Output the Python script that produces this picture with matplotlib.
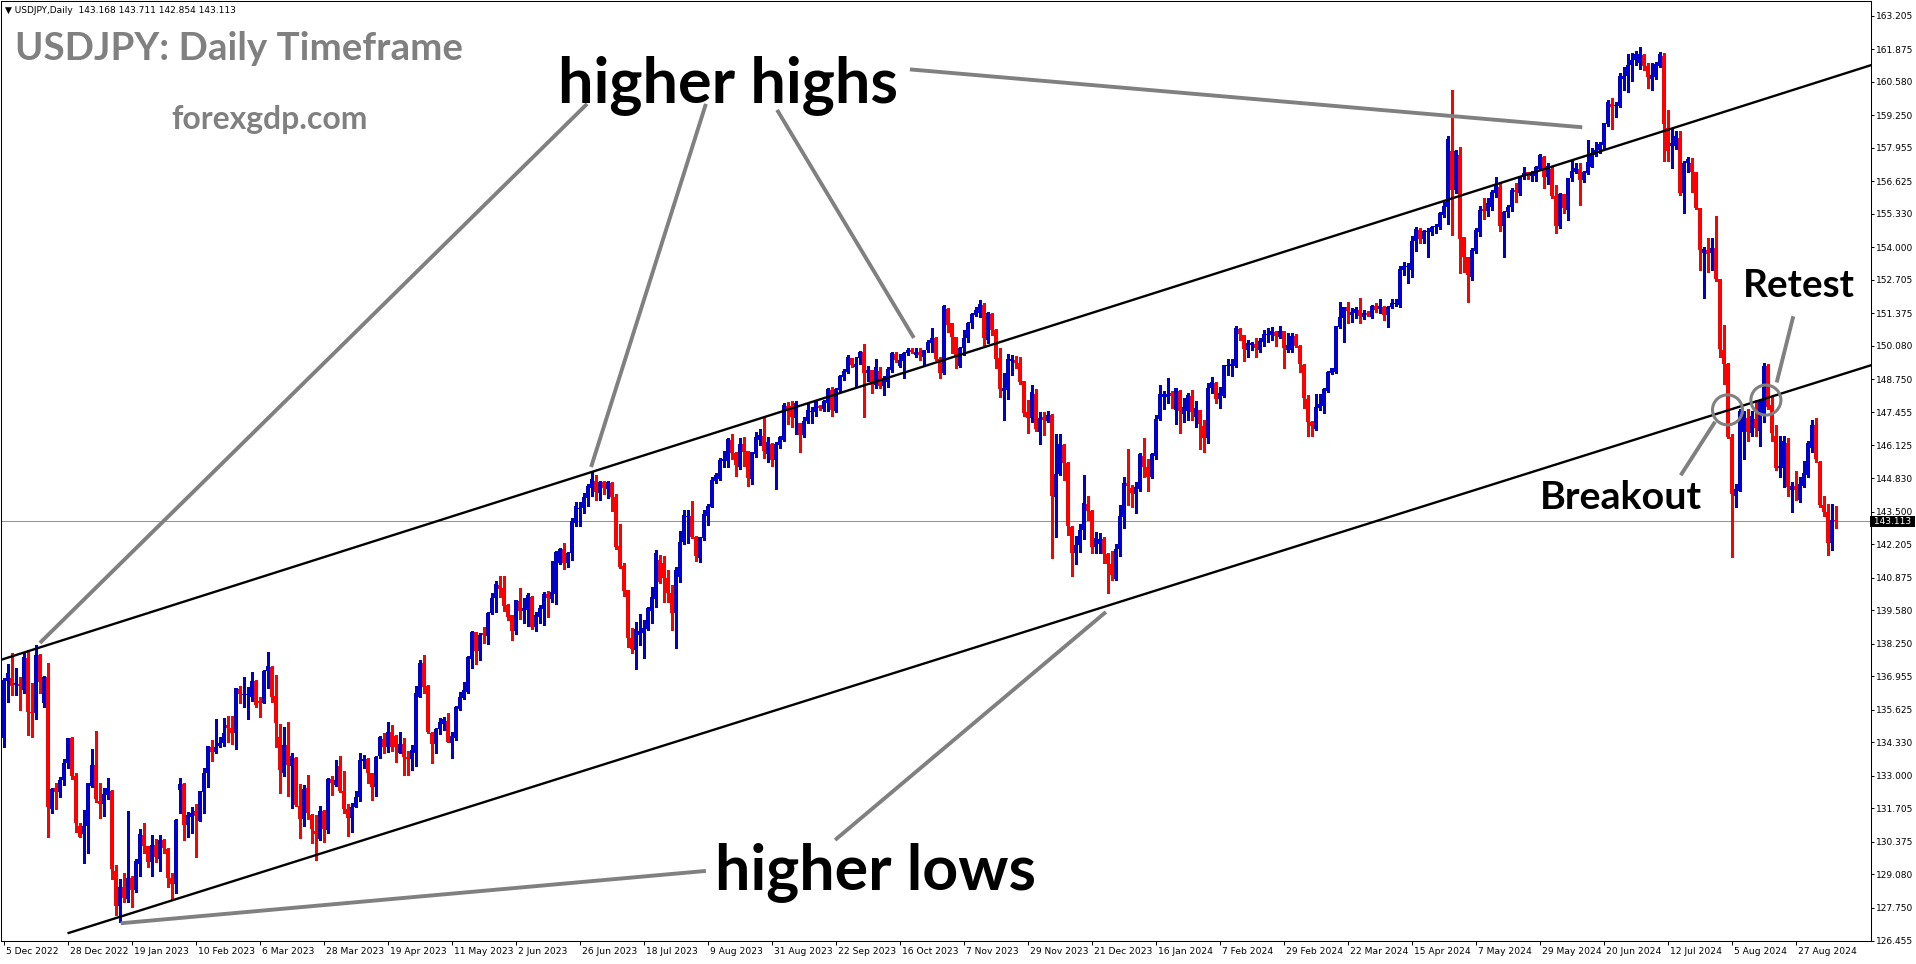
import matplotlib
matplotlib.use("Agg")
import matplotlib.pyplot as plt
import matplotlib.transforms as mtransforms
import numpy as np

# ---------------- data (USDJPY daily) ----------------
opens = [
    134.49, 136.75, 136.87, 136.60, 136.65, 136.41, 137.67, 135.55, 135.48, 137.80,
    135.90, 136.91, 131.68, 132.53, 132.34, 132.83, 133.50, 134.51, 133.00, 131.00,
    130.70, 131.00, 132.60, 133.43, 132.00, 131.88, 132.25, 132.40, 129.20, 127.83,
    128.60, 128.10, 128.95, 128.46, 129.50, 130.65, 130.20, 129.59, 130.25, 129.70,
    130.43, 130.10, 128.95, 128.70, 132.44, 132.67, 131.05, 131.35, 131.60, 131.20,
    132.37, 133.12, 134.16, 133.96, 134.20, 134.30, 135.02, 134.91, 134.69, 136.43,
    136.20, 136.20, 136.15, 136.78, 135.97, 135.90, 137.18, 137.34, 136.17, 134.56,
    133.10, 134.22, 133.37, 133.72, 131.80, 131.28, 132.50, 131.44, 130.80, 130.47,
    131.60, 130.85, 132.87, 132.65, 133.40, 132.40, 131.70, 131.34, 131.77, 132.15,
    133.60, 133.67, 133.10, 132.57, 133.80, 134.47, 134.13, 134.73, 134.60, 133.90,
    134.25, 133.76, 133.67, 133.90, 136.15, 137.50, 136.57, 134.70, 134.26, 134.85,
    135.05, 135.18, 134.30, 134.50, 135.65, 136.08, 136.34, 137.63, 138.70, 137.96,
    138.66, 138.57, 139.46, 140.05, 140.58, 140.46, 139.79, 139.39, 138.77, 139.95,
    139.56, 139.60, 140.12, 138.93, 139.30, 139.62, 140.21, 140.03, 140.22, 141.45,
    142.00, 141.44, 141.87, 143.06, 143.60, 143.66, 144.05, 144.45, 144.72, 144.22,
    144.66, 144.40, 144.62, 144.06, 142.13, 141.34, 140.38, 138.46, 138.00, 138.60,
    138.66, 138.83, 139.55, 140.03, 141.58, 141.47, 140.87, 140.25, 139.46, 140.90,
    142.30, 143.30, 143.33, 142.50, 141.67, 142.45, 143.34, 143.70, 144.72, 144.80,
    145.50, 145.50, 146.34, 145.84, 145.27, 146.18, 145.90, 144.78, 145.80, 146.35,
    146.50, 145.79, 146.20, 145.55, 146.15, 146.35, 147.70, 147.70, 147.23, 147.00,
    146.54, 147.11, 147.45, 147.47, 147.70, 147.56, 147.80, 148.33, 147.51, 148.33,
    148.83, 149.03, 149.60, 149.23, 149.60, 149.83, 148.99, 149.12, 148.53, 149.09,
    148.50, 148.63, 149.12, 149.76, 149.30, 149.50, 149.79, 149.92, 149.72, 149.85,
    149.65, 149.90, 150.20, 150.41, 149.56, 149.02, 151.55, 150.98, 150.42, 149.28,
    149.98, 150.41, 150.98, 151.30, 151.38, 151.70, 150.32, 151.35, 150.71, 149.59,
    148.30, 148.33, 149.50, 149.52, 149.42, 148.69, 147.47, 147.20, 148.17, 146.67,
    147.25, 147.10, 147.34, 144.09, 144.99, 146.16, 145.44, 142.90, 141.84, 142.17,
    142.75, 143.80, 143.54, 142.10, 142.20, 142.40, 141.81, 141.40, 140.82, 142.00,
    143.27, 144.65, 144.43, 144.20, 144.40, 145.72, 145.26, 144.87, 145.70, 147.17,
    148.05, 148.05, 148.20, 147.53, 148.30, 147.36, 147.50, 148.10, 147.25, 147.53,
    146.88, 146.41, 148.40, 148.60, 147.96, 148.10, 149.28, 149.30, 149.28, 150.74,
    150.50, 149.90, 150.10, 150.16, 149.90, 150.25, 150.50, 150.50, 150.65, 150.45,
    150.68, 149.90, 149.90, 150.48, 150.08, 149.34, 147.97, 147.07, 146.77, 147.63,
    147.70, 148.30, 149.00, 149.06, 150.85, 151.20, 151.62, 151.30, 151.40, 151.52,
    151.25, 151.38, 151.25, 151.65, 151.54, 151.63, 151.31, 151.63, 151.75, 151.70,
    153.10, 153.20, 153.10, 154.24, 154.70, 154.33, 154.60, 154.60, 154.80, 154.80,
    155.30, 155.60, 157.83, 156.28, 157.67, 154.40, 153.60, 152.84, 153.87, 154.60,
    155.52, 155.46, 155.62, 156.15, 156.39, 154.86, 155.40, 155.60, 156.28, 156.15,
    156.78, 156.98, 156.85, 156.85, 157.10, 157.60, 156.78, 157.10, 156.05, 154.86,
    156.10, 155.50, 156.74, 157.00, 157.10, 156.68, 156.95, 157.20, 157.67, 157.87,
    158.05, 158.90, 159.70, 159.60, 159.60, 160.68, 160.82, 161.24, 161.43, 161.34,
    161.64, 161.21, 160.68, 160.75, 161.20, 161.60, 158.76, 158.03, 158.03, 158.34,
    156.14, 157.35, 157.35, 156.99, 155.58, 153.78, 153.88, 153.78, 153.98, 152.75,
    149.91, 149.35, 146.47, 144.11, 144.32, 146.65, 147.22, 146.61, 147.18, 146.72,
    147.29, 149.28, 147.72, 146.51, 145.24, 145.24, 146.23, 144.35, 144.53, 143.96,
    144.53, 144.96, 146.02, 146.94, 145.45, 143.75, 143.47, 142.26, 143.168,
]
highs = [
    136.90, 137.44, 137.87, 137.27, 136.94, 137.87, 138.00, 136.67, 138.20, 137.85,
    136.95, 137.47, 132.50, 132.73, 132.96, 133.68, 134.52, 134.55, 133.10, 131.11,
    131.64, 132.72, 134.06, 134.78, 132.73, 132.50, 132.90, 132.45, 129.46, 128.89,
    129.15, 131.60, 129.00, 129.70, 130.90, 131.14, 130.22, 130.65, 130.50, 130.65,
    130.50, 130.15, 129.12, 131.30, 132.90, 132.70, 131.55, 131.77, 131.87, 132.40,
    133.32, 134.20, 134.42, 135.24, 134.55, 135.28, 135.38, 135.38, 136.50, 136.57,
    136.91, 136.54, 137.11, 136.80, 136.14, 137.20, 137.93, 137.36, 137.00, 135.06,
    134.95, 135.15, 133.90, 133.76, 132.68, 132.64, 133.03, 131.50, 131.44, 131.80,
    131.64, 132.93, 133.00, 133.63, 133.79, 133.19, 131.87, 131.90, 132.40, 133.89,
    133.83, 133.70, 133.13, 133.80, 134.60, 134.71, 135.13, 135.00, 134.62, 134.73,
    134.49, 134.00, 134.22, 136.57, 137.60, 137.80, 136.60, 134.73, 134.90, 135.31,
    135.35, 135.48, 134.75, 135.79, 136.32, 136.71, 137.75, 138.75, 138.73, 138.66,
    138.93, 139.52, 140.28, 140.75, 140.94, 140.94, 139.82, 139.40, 140.00, 140.48,
    140.05, 140.28, 140.15, 139.52, 139.80, 140.32, 140.34, 141.54, 141.95, 142.05,
    142.24, 141.90, 143.23, 143.89, 143.89, 144.22, 144.60, 145.07, 144.95, 144.73,
    144.73, 144.73, 144.69, 144.18, 143.01, 141.47, 140.40, 138.86, 139.12, 139.41,
    139.19, 139.70, 140.49, 141.97, 141.78, 141.73, 141.18, 140.58, 141.31, 142.73,
    143.56, 143.56, 143.92, 142.53, 142.50, 143.56, 143.80, 144.86, 145.02, 145.62,
    145.92, 146.43, 146.57, 145.86, 146.43, 146.45, 145.92, 145.86, 146.68, 146.78,
    147.21, 146.47, 146.21, 146.28, 146.50, 147.80, 147.84, 147.89, 147.89, 147.02,
    147.24, 147.77, 147.64, 147.93, 147.72, 147.93, 148.40, 148.44, 148.40, 148.93,
    149.16, 149.72, 149.62, 149.65, 149.89, 150.14, 149.30, 149.14, 149.55, 149.23,
    148.89, 149.26, 149.85, 149.85, 149.76, 149.85, 149.99, 150.01, 149.98, 149.98,
    149.93, 150.32, 150.81, 150.42, 149.65, 151.71, 151.58, 151.00, 150.44, 150.02,
    150.71, 151.04, 151.40, 151.64, 151.91, 151.77, 151.44, 151.38, 150.74, 149.99,
    148.99, 149.76, 149.72, 149.68, 149.65, 148.70, 147.93, 148.53, 148.36, 147.44,
    147.47, 147.51, 147.36, 146.58, 146.58, 146.18, 145.46, 142.93, 142.53, 143.00,
    144.95, 144.12, 143.56, 142.70, 142.66, 142.50, 141.85, 141.93, 142.20, 143.76,
    144.89, 145.99, 144.56, 144.66, 145.84, 146.41, 145.57, 145.81, 147.34, 148.53,
    148.30, 148.80, 148.30, 148.41, 148.33, 148.00, 148.20, 148.33, 147.90, 147.55,
    147.14, 148.62, 148.86, 148.66, 148.46, 149.33, 149.56, 149.55, 150.89, 150.81,
    150.52, 150.32, 150.25, 150.38, 150.38, 150.72, 150.78, 150.82, 150.66, 150.87,
    150.69, 150.61, 150.61, 150.55, 150.10, 149.36, 148.13, 147.09, 148.17, 148.17,
    148.40, 149.07, 149.20, 150.88, 151.84, 151.64, 151.84, 151.58, 151.64, 151.97,
    151.50, 151.47, 151.71, 151.80, 151.93, 151.65, 151.65, 151.93, 151.93, 153.26,
    153.43, 153.36, 154.45, 154.82, 154.76, 154.69, 154.76, 154.85, 154.93, 155.39,
    155.80, 158.44, 160.25, 157.87, 158.00, 154.42, 153.62, 153.96, 154.76, 155.66,
    155.95, 155.95, 156.28, 156.81, 156.57, 155.45, 155.68, 156.35, 156.54, 156.83,
    157.21, 157.00, 157.02, 157.23, 157.70, 157.63, 157.34, 157.21, 156.48, 156.15,
    156.12, 156.77, 157.47, 157.37, 157.34, 157.03, 158.27, 157.93, 158.20, 158.20,
    158.95, 159.85, 159.92, 159.79, 160.92, 161.17, 161.67, 161.74, 161.81, 161.95,
    161.67, 161.31, 161.31, 161.38, 161.77, 161.74, 159.47, 158.69, 158.62, 158.62,
    157.42, 157.60, 157.56, 156.99, 155.58, 154.02, 154.37, 154.37, 155.25, 152.75,
    150.90, 149.42, 146.58, 144.60, 147.58, 147.50, 147.58, 147.50, 147.93, 147.93,
    149.42, 149.35, 148.07, 146.94, 146.51, 146.51, 146.44, 144.67, 145.10, 144.88,
    145.52, 146.30, 147.14, 147.22, 145.52, 144.11, 143.82, 143.82, 143.711,
]
lows = [
    134.16, 135.95, 136.21, 136.21, 135.62, 136.30, 134.62, 134.53, 135.24, 136.30,
    135.75, 130.58, 131.51, 131.67, 132.17, 132.63, 133.30, 132.87, 130.78, 130.55,
    129.52, 129.92, 132.55, 131.97, 131.31, 131.40, 132.06, 128.89, 127.47, 127.20,
    128.00, 128.00, 127.80, 128.37, 129.03, 129.92, 129.39, 129.02, 129.59, 129.20,
    129.92, 128.57, 128.06, 128.33, 131.51, 130.45, 130.58, 130.71, 129.79, 131.20,
    131.51, 132.54, 133.60, 133.92, 134.16, 134.20, 134.36, 134.26, 134.05, 135.88,
    135.75, 135.24, 135.98, 135.75, 135.35, 135.90, 136.47, 135.95, 134.13, 132.30,
    132.99, 132.20, 131.71, 131.80, 130.54, 131.02, 131.28, 130.32, 129.65, 130.45,
    130.38, 130.74, 132.24, 132.61, 132.37, 131.53, 130.62, 130.78, 131.75, 132.01,
    133.30, 132.70, 132.04, 132.20, 133.72, 133.89, 133.96, 134.00, 133.56, 133.89,
    133.03, 133.03, 133.23, 133.39, 136.15, 136.28, 134.70, 133.50, 133.89, 134.66,
    134.82, 134.33, 133.72, 134.42, 135.62, 136.04, 136.30, 137.27, 137.44, 137.60,
    138.27, 138.23, 139.44, 139.52, 140.12, 139.56, 139.19, 138.40, 138.63, 139.22,
    139.06, 138.97, 138.82, 138.77, 139.06, 138.99, 139.30, 139.92, 139.83, 141.40,
    141.20, 141.28, 141.57, 142.94, 142.93, 143.43, 143.74, 144.13, 143.96, 143.96,
    144.20, 144.05, 143.52, 142.01, 141.24, 140.14, 138.13, 137.87, 137.25, 138.20,
    137.67, 138.79, 139.09, 139.72, 140.65, 139.92, 139.92, 138.80, 138.07, 140.69,
    142.20, 142.24, 142.43, 141.55, 141.51, 142.37, 142.97, 143.69, 144.62, 144.75,
    145.28, 145.28, 145.59, 144.93, 145.19, 145.31, 144.53, 144.60, 145.68, 146.15,
    145.62, 145.48, 145.32, 144.40, 146.01, 146.32, 146.97, 146.87, 146.58, 145.88,
    146.48, 147.00, 147.00, 147.30, 147.55, 147.51, 147.51, 147.30, 147.47, 148.26,
    148.73, 148.99, 149.23, 148.49, 149.36, 147.27, 148.70, 148.22, 148.40, 148.40,
    148.13, 148.44, 149.06, 149.46, 149.26, 148.79, 149.72, 149.79, 149.66, 149.52,
    149.28, 149.85, 149.85, 149.52, 148.79, 148.97, 150.65, 149.79, 149.19, 149.26,
    149.72, 150.25, 150.78, 151.28, 151.22, 150.12, 150.19, 150.52, 149.19, 148.06,
    147.14, 147.96, 148.93, 149.19, 148.56, 147.30, 146.64, 147.07, 146.70, 146.18,
    146.54, 147.07, 141.64, 142.50, 144.95, 144.75, 142.57, 140.95, 141.42, 141.90,
    142.40, 143.17, 141.84, 141.84, 141.84, 141.44, 140.25, 140.78, 140.78, 141.75,
    142.83, 143.76, 143.70, 143.43, 144.30, 144.89, 144.33, 144.82, 145.58, 147.13,
    147.56, 147.83, 147.60, 146.98, 146.64, 147.07, 147.14, 147.14, 146.87, 146.00,
    145.88, 146.24, 148.20, 147.80, 147.60, 148.04, 148.93, 148.89, 149.26, 150.32,
    149.48, 149.66, 149.90, 149.66, 149.85, 150.08, 150.25, 150.32, 150.08, 150.38,
    149.19, 149.85, 149.85, 150.03, 149.06, 147.60, 146.50, 146.50, 146.74, 147.54,
    147.43, 148.26, 148.97, 148.99, 150.78, 150.25, 150.98, 151.05, 151.20, 151.00,
    151.14, 151.27, 151.20, 151.44, 151.38, 151.10, 150.82, 151.60, 151.66, 151.64,
    152.90, 152.57, 152.81, 153.87, 154.16, 154.19, 153.60, 154.49, 154.56, 154.73,
    155.20, 154.93, 154.49, 156.15, 152.97, 153.03, 151.84, 152.70, 153.76, 154.45,
    155.13, 155.26, 155.48, 155.99, 154.66, 153.60, 155.22, 155.46, 155.82, 156.08,
    156.70, 156.70, 156.65, 156.64, 157.07, 156.34, 156.52, 155.95, 154.56, 154.76,
    155.35, 155.10, 156.64, 156.94, 155.68, 156.60, 156.92, 157.18, 157.63, 157.76,
    157.93, 158.82, 158.70, 159.17, 159.59, 160.25, 160.18, 160.61, 161.24, 161.10,
    161.03, 160.32, 160.25, 160.68, 161.17, 157.42, 157.42, 157.14, 157.92, 156.07,
    155.37, 156.99, 156.21, 155.51, 153.10, 151.97, 153.03, 153.10, 152.67, 149.63,
    148.57, 146.44, 141.70, 143.68, 144.32, 145.59, 146.30, 146.51, 146.51, 146.09,
    147.07, 147.58, 146.30, 145.17, 144.88, 144.46, 144.11, 143.47, 143.96, 143.89,
    144.46, 144.88, 145.88, 145.45, 143.68, 143.33, 141.77, 141.98, 142.854,
]
closes = [
    136.80, 137.07, 136.57, 136.68, 136.57, 137.73, 135.55, 135.48, 137.80, 136.74,
    136.91, 131.75, 132.48, 132.34, 132.83, 133.52, 134.51, 133.00, 131.11, 130.58,
    131.00, 132.70, 133.43, 132.06, 131.88, 132.28, 132.53, 129.30, 127.83, 128.57,
    128.16, 128.95, 128.46, 129.61, 130.69, 130.20, 129.59, 130.25, 129.79, 130.45,
    130.12, 128.95, 128.70, 131.25, 132.67, 131.05, 131.44, 131.53, 131.40, 132.40,
    133.12, 134.20, 133.96, 134.16, 134.30, 134.69, 134.91, 134.69, 136.50, 136.24,
    136.25, 136.21, 136.78, 135.81, 135.88, 137.18, 137.36, 136.15, 135.08, 133.23,
    134.22, 133.43, 133.80, 131.84, 131.28, 132.46, 131.51, 130.87, 130.70, 131.60,
    130.89, 132.87, 132.70, 132.83, 132.40, 131.68, 131.34, 131.77, 132.15, 133.63,
    133.67, 133.10, 132.57, 133.76, 134.53, 134.13, 134.73, 134.15, 134.13, 134.25,
    133.73, 133.66, 134.02, 136.28, 137.50, 136.54, 134.73, 134.26, 134.85, 135.13,
    135.25, 134.36, 134.58, 135.75, 136.12, 136.41, 137.73, 138.73, 137.96, 138.60,
    138.60, 139.46, 140.08, 140.62, 140.42, 139.76, 139.32, 138.77, 139.99, 139.56,
    139.68, 140.19, 138.93, 139.39, 139.65, 140.21, 140.05, 140.29, 141.91, 142.00,
    141.44, 141.87, 143.12, 143.72, 143.66, 144.09, 144.52, 144.80, 144.29, 144.66,
    144.45, 144.66, 144.09, 142.08, 141.29, 140.34, 138.46, 138.04, 138.83, 138.76,
    138.89, 139.68, 140.12, 141.87, 140.72, 140.85, 140.25, 139.46, 141.18, 142.30,
    143.36, 143.33, 142.50, 141.75, 142.48, 143.40, 143.72, 144.76, 144.95, 145.55,
    145.59, 146.38, 145.84, 145.35, 146.20, 145.88, 144.85, 145.85, 146.48, 146.54,
    145.92, 146.25, 145.55, 146.19, 146.48, 147.73, 147.54, 147.27, 147.83, 146.54,
    147.11, 147.54, 147.47, 147.89, 147.60, 147.90, 148.36, 147.54, 148.37, 148.89,
    149.09, 149.65, 149.32, 149.36, 149.85, 149.02, 149.12, 148.53, 149.23, 148.50,
    148.79, 149.15, 149.81, 149.52, 149.52, 149.81, 149.92, 149.86, 149.85, 149.72,
    149.92, 150.25, 150.41, 149.56, 149.02, 151.68, 150.91, 150.42, 149.68, 149.99,
    150.41, 151.00, 151.35, 151.51, 151.75, 150.38, 151.40, 150.71, 149.56, 148.37,
    148.42, 149.56, 149.56, 149.42, 148.66, 147.43, 147.20, 148.26, 146.77, 147.23,
    147.14, 147.34, 144.13, 144.99, 146.18, 145.44, 142.93, 141.84, 142.17, 142.75,
    143.83, 143.54, 142.10, 142.46, 142.40, 141.81, 141.40, 140.98, 142.00, 143.32,
    144.65, 144.52, 144.22, 144.49, 145.79, 145.28, 144.89, 145.79, 147.17, 148.17,
    148.17, 148.17, 148.11, 148.40, 147.51, 147.67, 148.13, 147.47, 147.60, 146.97,
    146.41, 148.42, 148.66, 147.96, 148.23, 149.32, 149.30, 149.37, 150.81, 150.56,
    149.95, 150.19, 150.20, 149.99, 150.28, 150.56, 150.56, 150.69, 150.48, 150.69,
    149.99, 150.12, 150.48, 150.08, 149.37, 148.03, 147.07, 146.91, 147.67, 147.77,
    148.36, 149.06, 149.19, 150.87, 151.22, 151.62, 151.48, 151.42, 151.54, 151.29,
    151.38, 151.33, 151.67, 151.50, 151.68, 151.31, 151.63, 151.80, 151.78, 153.13,
    153.26, 153.25, 154.27, 154.73, 154.33, 154.66, 154.66, 154.82, 154.86, 155.35,
    155.66, 158.31, 156.28, 157.83, 154.33, 153.60, 152.90, 153.90, 154.69, 155.48,
    155.46, 155.78, 156.21, 156.45, 154.86, 155.42, 155.62, 156.28, 156.20, 156.81,
    156.97, 156.87, 157.01, 157.21, 157.67, 156.78, 157.24, 156.05, 154.86, 156.12,
    155.58, 156.74, 157.05, 157.17, 156.68, 157.01, 157.38, 157.74, 157.87, 158.11,
    158.93, 159.79, 159.59, 159.66, 160.81, 160.82, 161.24, 161.46, 161.67, 161.70,
    161.20, 160.75, 160.86, 161.29, 161.67, 158.91, 157.84, 158.13, 158.41, 156.17,
    157.35, 157.49, 156.99, 155.58, 153.88, 153.92, 153.74, 153.98, 152.75, 149.96,
    149.35, 146.47, 144.18, 144.39, 147.50, 147.32, 146.65, 147.29, 146.84, 147.86,
    149.28, 147.65, 146.61, 145.24, 145.31, 146.30, 144.46, 144.53, 144.35, 144.60,
    145.03, 146.23, 146.94, 145.59, 143.75, 143.47, 142.26, 143.18, 143.113,
]

date_labels = [
    "5 Dec 2022", "28 Dec 2022", "19 Jan 2023", "10 Feb 2023", "6 Mar 2023",
    "28 Mar 2023", "19 Apr 2023", "11 May 2023", "2 Jun 2023", "26 Jun 2023",
    "18 Jul 2023", "9 Aug 2023", "31 Aug 2023", "22 Sep 2023", "16 Oct 2023",
    "7 Nov 2023", "29 Nov 2023", "21 Dec 2023", "16 Jan 2024", "7 Feb 2024",
    "29 Feb 2024", "22 Mar 2024", "15 Apr 2024", "7 May 2024", "29 May 2024",
    "20 Jun 2024", "12 Jul 2024", "5 Aug 2024", "27 Aug 2024",
]
label_step = 16  # one date label every 16 bars
price_ticks = [
    163.205, 161.875, 160.580, 159.250, 157.955, 156.625, 155.330, 154.000,
    152.705, 151.375, 150.080, 148.750, 147.455, 146.125, 144.830, 143.500,
    142.205, 140.875, 139.580, 138.250, 136.955, 135.625, 134.330, 133.000,
    131.705, 130.375, 129.080, 127.750, 126.455,
]
last_price = 143.113
header = "USDJPY,Daily  143.168 143.711 142.854 143.113"

# channel lines, (bar, price)
upper_line = [(0, 137.64), (458, 160.79)]
lower_line = [(16, 126.74), (467, 149.32)]

# grey pointer lines, (bar, price)
pointers = [
    [(145.9, 159.70), (9.1, 138.28)],
    [(175.6, 159.70), (146.9, 145.27)],
    [(193.4, 159.46), (227.6, 150.40)],
    [(226.6, 161.07), (394.7, 158.77)],
    [(175.6, 129.22), (29.3, 127.14)],
    [(207.9, 130.45), (275.6, 139.51)],
    [(419.3, 144.94), (427.9, 147.07)],
    [(447.45, 151.26), (443.3, 148.63)],
]
circles = [(431, 147.54), (440.6, 147.93)]

BLUE = "#0000CD"
RED = "#FF0000"
GREY = "#808080"

W, H, DPI = 1916, 964, 100
fig = plt.figure(figsize=(W / DPI, H / DPI), dpi=DPI)
fig.patch.set_facecolor("white")
ax = fig.add_axes([1 / W, (H - 940.5) / H, 1870 / W, 939.5 / H])

o = np.array(opens)
c = np.array(closes)
h = np.maximum(np.array(highs), np.maximum(o, c))
l = np.minimum(np.array(lows), np.minimum(o, c))
x = np.arange(len(c))
cols = np.where(c >= o, BLUE, RED)

ax.axhline(last_price, color="#8a96a3", lw=0.75, zorder=1)
ax.vlines(x, l, h, colors=cols, lw=0.75, antialiased=False, zorder=3)
body = np.maximum(np.abs(c - o), 0.04)
ax.bar(x, body, bottom=np.minimum(o, c), width=0.75, color=cols,
       linewidth=0, antialiased=False, zorder=4)

ax.set_xlim(-0.625, 466.875)
ax.set_ylim(126.455, 163.788)

# channel
ax.axline(upper_line[0], upper_line[1], color="black", lw=1.7, zorder=5)
ax.plot([p[0] for p in lower_line], [p[1] for p in lower_line],
        color="black", lw=1.7, zorder=5, solid_capstyle="butt")

for seg in pointers:
    ax.plot([seg[0][0], seg[1][0]], [seg[0][1], seg[1][1]], color=GREY,
            lw=2.8, zorder=6, solid_capstyle="butt")
ax.scatter([p[0] for p in circles], [p[1] for p in circles], s=21.6 ** 2,
           facecolors="none", edgecolors=GREY, linewidths=2.2, zorder=6)

# axes styling
for sp in ax.spines.values():
    sp.set_color("black")
    sp.set_linewidth(0.75)
ax.yaxis.tick_right()
ax.set_yticks(price_ticks)
ax.set_yticklabels([f"{v:.3f}" for v in price_ticks])
ax.tick_params(axis="y", direction="out", length=2.5, width=0.7, pad=1.2,
               labelsize=6.5, colors="black")
ax.set_xticks([k * label_step for k in range(len(date_labels))])
ax.set_xticklabels(date_labels, ha="left")
ax.tick_params(axis="x", direction="out", length=3, width=0.7, pad=1.5,
               labelsize=6.6)
shift = mtransforms.ScaledTranslation(2 / DPI, 0, fig.dpi_scale_trans)
for lbl in ax.get_xticklabels():
    lbl.set_transform(lbl.get_transform() + shift)

# current price box
ax.text(1.0, last_price, " 143.113 ", transform=ax.get_yaxis_transform(),
        ha="left", va="center", fontsize=6.5, color="white", zorder=10,
        bbox=dict(boxstyle="square,pad=0.12", fc="black", ec="none"),
        clip_on=False)

# header
fig.text(5 / W, 1 - 10.5 / H, "▼ " + header, fontsize=6.5, va="center",
         ha="left", family="DejaVu Sans")

# overlay captions: text, left px, baseline px, width px, colour
captions = [
    ("USDJPY: Daily Timeframe", 15, 59.5, 448, GREY),
    ("forexgdp.com", 171, 129, 196, GREY),
    ("higher highs", 558, 102, 340, "black"),
    ("higher lows", 715, 889, 321, "black"),
    ("Retest", 1743, 297, 112, "black"),
    ("Breakout", 1540, 509, 162, "black"),
]
renderer = fig.canvas.get_renderer()
for txt, px, py, pw, col in captions:
    t = fig.text(px / W, 1 - py / H, txt, color=col, fontsize=30,
                 family="Lato", weight="bold", ha="left", va="baseline",
                 zorder=8)
    w = t.get_window_extent(renderer).width
    t.set_fontsize(30 * pw / w)

fig.savefig("out.png", dpi=DPI)
